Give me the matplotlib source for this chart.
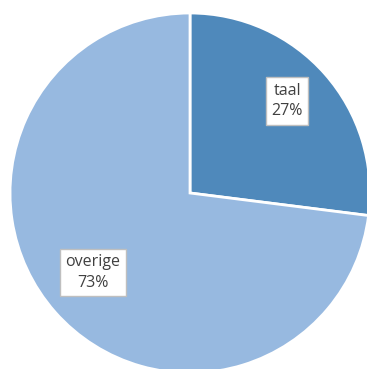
import matplotlib
matplotlib.use("Agg")
from matplotlib import pyplot as plt

# data
labels = ["taal", "overige"]
values = [27, 73]
colors = ["#4F89BB", "#97B9E0"]

fig = plt.figure(figsize=(3.67, 3.69), dpi=100)
ax = fig.add_axes([0, 0, 1, 1])

# pie with custom label text (name + percentage)
it = iter(labels)
wedges, texts, autotexts = ax.pie(
    values, colors=colors, startangle=90, counterclock=False,
    radius=1.0, center=(0, 0),
    autopct=lambda p: f"{next(it)}\n{p:.0f}%",
    pctdistance=0.72,
    wedgeprops=dict(edgecolor="white", linewidth=2),
    textprops=dict(fontsize=11.5, color="#404040", family="Open Sans",
                   linespacing=1.35),
)

for t in autotexts:
    x, y = t.get_position()
    t.set_position((x, y + 0.035))
    t.set_bbox(dict(boxstyle="square,pad=0.35", facecolor="white",
                    edgecolor="#BFBFBF", linewidth=1))

# view window: pie slightly cropped at right and bottom
ax.set_xlim(-1.0556, 0.9833)
ax.set_ylim(-0.9778, 1.0722)
ax.set_aspect("equal")
ax.axis("off")

fig.savefig("out.png", dpi=100)
